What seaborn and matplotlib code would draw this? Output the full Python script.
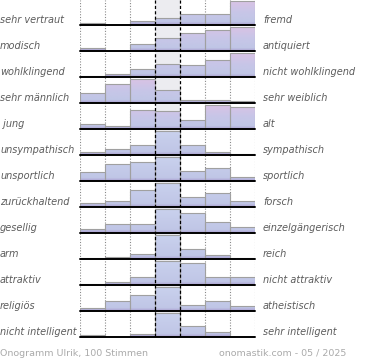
import numpy as np
import pandas as pd
import matplotlib.pyplot as plt
import seaborn as sns
from matplotlib.colors import LinearSegmentedColormap

# Labels for each row (left pole / right pole)
left_labels = ["sehr vertraut", "modisch", "wohlklingend", "sehr männlich", " jung",
               "unsympathisch", "unsportlich", "zurückhaltend", "gesellig", "arm",
               "attraktiv", "religiös", "nicht intelligent"]
right_labels = ["fremd", "antiquiert", "nicht wohlklingend", "sehr weiblich", "alt",
                "sympathisch", "sportlich", "forsch", "einzelgängerisch", "reich",
                "nicht attraktiv", "atheistisch", "sehr intelligent"]

# Votes per scale step (7 steps, left to right)
vertraut = [4, 0, 6, 11, 19, 19, 40]
modisch = [3, 0, 8, 15, 21, 25, 28]
wohlklingend = [1, 4, 10, 17, 15, 22, 31]
maennlich = [14, 26, 32, 17, 4, 4, 3]
jung = [5, 3, 19, 18, 9, 24, 22]
unsympathisch = [6, 10, 17, 42, 17, 6, 2]
unsportlich = [9, 18, 20, 25, 10, 14, 4]
zurueckhaltend = [5, 8, 21, 30, 12, 17, 7]
gesellig = [5, 11, 11, 29, 24, 13, 7]
arm = [3, 5, 10, 50, 21, 9, 2]
attraktiv = [1, 4, 11, 32, 30, 11, 11]
religioes = [4, 13, 22, 32, 8, 14, 7]
intelligent = [5, 1, 7, 51, 24, 11, 1]

rows = [vertraut, modisch, wohlklingend, maennlich, jung, unsympathisch, unsportlich,
        zurueckhaltend, gesellig, arm, attraktiv, religioes, intelligent]
# first five rows are drawn with the pinkish gradient
highlight = [True] * 5 + [False] * 8

sns.set_style("white")
plt.rcParams['font.family'] = ['DejaVu Sans']

W, H = 370, 360
fig = plt.figure(figsize=(W / 100, H / 100), dpi=100)

x0, x1 = 80, 255
row_h = 26
first_base = 25
n = len(rows)
last_base = first_base + row_h * (n - 1)


def fx(px):
    return px / W


def fy(py):
    return 1 - py / H


pink_cmap = LinearSegmentedColormap.from_list(
    "pink", [(0, "#a89ccc"), (0.07, "#b6b4dc"), (0.12, "#c0c6e6"), (0.5, "#c8c6e8"), (1, "#dcc2e4")])
blue_cmap = LinearSegmentedColormap.from_list(
    "blue", [(0, "#a89ccc"), (0.07, "#b6b4dc"), (0.12, "#c0c6e6"), (1, "#cad2ee")])

# background grid with grey middle column
bg = fig.add_axes([fx(x0), fy(last_base), fx(x1 - x0), last_base / H])
bg.set_xlim(-0.5, 6.5)
bg.set_ylim(0, 1)
bg.axvspan(2.5, 3.5, color="#ececf0", lw=0)
for xv in [-0.5, 0.5, 1.5, 4.5, 5.5, 6.5]:
    bg.axvline(xv, color="#8a8a8a", lw=0.8, ls=(0, (1, 1.5)))
bg.axis("off")

grad = np.linspace(0, 1, 256).reshape(-1, 1)

for i, vals in enumerate(rows):
    base = first_base + row_h * i
    ax = fig.add_axes([fx(x0), fy(base), fx(x1 - x0), row_h / H])
    ax.patch.set_alpha(0)
    df = pd.DataFrame({"step": list(range(7)), "votes": vals})
    sns.barplot(data=df, x="step", y="votes", width=1, ax=ax, color="#c4c8e8",
                edgecolor="#a0a0a0", linewidth=0.8, native_scale=True)
    ymax = max(vals) * row_h / 24
    cmap = pink_cmap if highlight[i] else blue_cmap
    for p in ax.patches:
        bx, bw = p.get_x(), p.get_width()
        im = ax.imshow(grad, extent=[bx, bx + bw, 0, ymax], origin="lower",
                       aspect="auto", cmap=cmap, zorder=0.5)
        im.set_clip_path(p)
        p.set_facecolor("none")
        p.set_zorder(1)
    ax.set_xlim(-0.5, 6.5)
    ax.set_ylim(0, ymax)
    ax.axis("off")
    ax.axhline(0, color="black", lw=1.4, clip_on=False, zorder=3)

    fig.text(fx(0), fy(base - 2), left_labels[i], fontsize=7, style="italic",
             color="#5c5c5c", va="baseline", ha="left")
    fig.text(fx(263), fy(base - 2), right_labels[i], fontsize=7, style="italic",
             color="#5c5c5c", va="baseline", ha="left")

# dashed lines around the middle column
for xv in [155, 180]:
    fig.add_artist(plt.Line2D([fx(xv), fx(xv)], [fy(0), fy(last_base + 1)],
                              transform=fig.transFigure, color="black", lw=0.9,
                              ls=(0, (2.5, 1.8)), zorder=5))

fig.text(fx(0), fy(356), "Onogramm Ulrik, 100 Stimmen", fontsize=6.8,
         color="#aaaaaa", va="baseline", ha="left")
fig.text(fx(346), fy(356), "onomastik.com - 05 / 2025", fontsize=6.8,
         color="#aaaaaa", va="baseline", ha="right")

plt.savefig("out.png", dpi=100)
plt.close()
